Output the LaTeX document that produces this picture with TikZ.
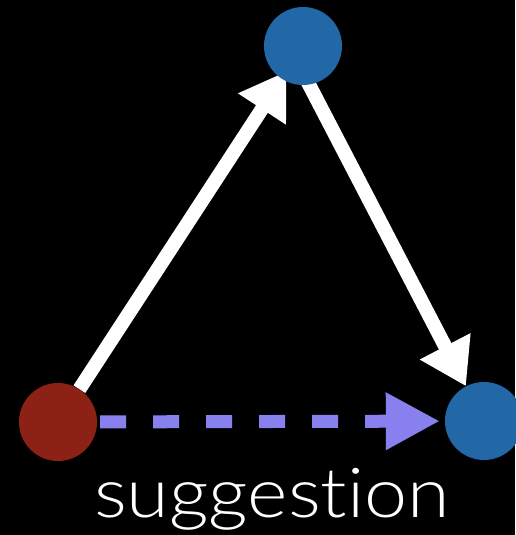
\documentclass[tikz,border=0pt]{standalone}
\usepackage{fontspec}
\newfontfamily\lightfont{Lato Light}[Ligatures=NoCommon]
\usetikzlibrary{arrows.meta,calc}
\definecolor{nodered}{RGB}{140,34,22}
\definecolor{nodeblue}{RGB}{35,104,166}
\definecolor{sugg}{RGB}{136,128,238}
\pgfdeclarelayer{bg}
\pgfsetlayers{bg,main}
\begin{document}
\begin{tikzpicture}[x=1pt,y=-1pt,
  circnode/.style={circle,minimum size=78pt,inner sep=0pt},
  edgearrow/.style={draw=white,line width=14pt,-{Triangle[length=45pt,width=54pt]}},
  suggarrow/.style={draw=sugg,line width=13pt,dash pattern=on 26pt off 27pt,-{Triangle[length=54pt,width=54pt]}},
  suggtext/.style={text=white,font=\lightfont\fontsize{69}{72}\selectfont,inner sep=0pt,anchor=base}]
\useasboundingbox (0,0) rectangle (515,535);
\node[circnode,fill=nodered] (red) at (58,422) {};
\node[circnode,fill=nodeblue] (top) at (303,46) {};
\node[circnode,fill=nodeblue] (right) at (484,421) {};
\coordinate (topoff) at (289,46);
\node[suggtext] (lbl) at (272,517) {\scalebox{1.12}[1]{sugges\kern0pt tion}};
\begin{pgfonlayer}{bg}
\fill[black] (0,0) rectangle (515,535);
\draw[edgearrow,shorten >=-9pt] (red) -- (top);
\draw[edgearrow] (topoff) -- (right);
\draw[suggarrow,shorten <=3pt,shorten >=5pt] (red) -- (right);
\end{pgfonlayer}
\end{tikzpicture}
\end{document}
